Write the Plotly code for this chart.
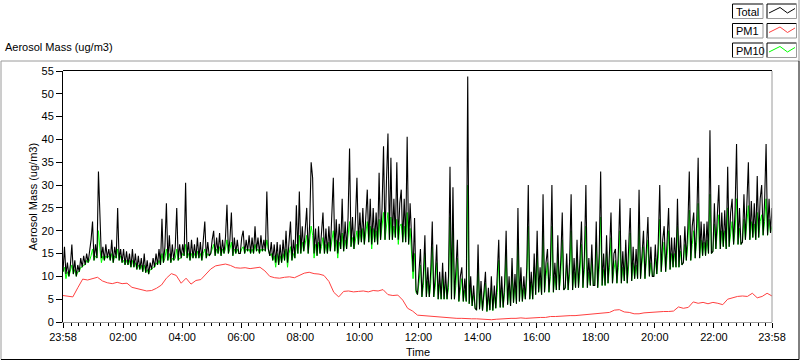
import pandas as pd
import plotly.graph_objects as go

# ---------------- data ----------------
start_time = "2020-01-01 23:58"
end_time = "2020-01-02 23:58"

# Total, 3-minute samples (one row per hour, 20 values per row)
total = [
    11, 16.5, 10.5, 13, 10, 12.5, 17, 10.5, 13.5, 10, 12.5, 11, 14, 12, 14.5, 12.5, 15, 13, 15.5, 18,
    22, 13.5, 17, 14, 33, 24, 14, 16.5, 13.5, 17, 14, 16, 13.5, 18, 13, 16.5, 14, 25, 13.5, 16,
    13, 16, 12.5, 15.5, 12.5, 15, 12, 16, 12, 15, 11.5, 14.5, 11.5, 14, 11, 15, 10.8, 13.5, 10.5, 13,
    11.5, 14, 12, 15, 12.5, 16, 12.5, 22.6, 13, 16.5, 26, 13.5, 19, 13, 17, 13.5, 16.5, 25, 13.5, 17,
    14, 17, 14.5, 30.5, 14, 17.5, 13.5, 18, 14, 17, 14, 18.5, 14, 17.5, 13.5, 18, 22, 14, 17.5, 14.5,
    15, 18, 20, 14.5, 18.5, 15, 19.5, 14.5, 18, 15, 18.5, 25.7, 15, 18, 24, 14.5, 18.5, 15, 18, 15,
    15, 18.5, 20, 15, 18, 15.5, 19, 15, 18.5, 15, 21, 15.5, 18.5, 15, 19, 15.5, 18, 15.5, 28.6, 16,
    14.5, 17.5, 13.5, 17, 13, 17.5, 12.5, 17, 13, 18, 13.5, 20, 13, 17.5, 22, 13.5, 18, 14, 25.6, 15,
    28.6, 15, 21, 15.5, 20, 25, 15, 21.5, 35, 31.6, 15, 20.5, 14.5, 21, 15, 19.5, 24, 15, 20.5, 15,
    21, 15.5, 22, 31.6, 15.5, 22.5, 15, 21.5, 16, 27, 15.5, 22, 16, 23, 38, 16.5, 23, 16, 22.5, 31.6,
    17, 24, 17.5, 25, 17, 24.5, 29, 17.5, 27, 17, 25, 17.5, 24, 17, 32.7, 18, 25, 38.5, 18, 31,
    41.3, 18, 36, 18, 27, 18.5, 35, 18, 26, 29, 17.5, 27, 17.5, 40.6, 17, 26, 16, 11, 22.8, 7,
    6, 11, 16, 5.5, 10.5, 19, 5.5, 12, 5.5, 11.5, 22, 5.5, 10, 17, 5, 11, 5, 13, 5, 11,
    5, 10, 34, 5, 29.5, 5, 10.5, 18, 4.5, 10, 12, 4.5, 9.5, 4.5, 53.8, 4, 10, 3.5, 8, 3,
    2.6, 17, 2.8, 9, 2.5, 8, 11, 2.3, 7.5, 2.6, 10, 2.5, 8, 3, 9, 18, 3.2, 10, 3.2, 8.5,
    20, 3.8, 10, 3.5, 14, 4.2, 10.5, 4, 25, 4.5, 12, 4.5, 10, 5, 12, 30, 5, 11, 5, 15,
    6, 20, 6.5, 12, 6, 28, 6.5, 13, 16, 6.5, 12.5, 30, 6.5, 13, 7, 19, 7, 13.5, 24, 7,
    7.5, 15, 7, 13.5, 28, 7, 14, 7.5, 18, 7.5, 14, 22, 7.5, 14.5, 30, 7.5, 14, 8, 17, 8,
    8, 22, 7.5, 15, 33, 8, 15, 8, 19, 8.5, 15.5, 24, 8.5, 15, 16, 8.5, 15.5, 27, 8.5, 15.5,
    9, 18, 8.5, 16, 25, 9, 16.5, 9.5, 16, 9.5, 29, 9.5, 16.5, 20, 9.5, 17, 23, 10, 16.5, 10,
    10, 17, 10.5, 17.5, 30, 11, 18, 21, 11, 18, 25, 11.5, 18.5, 12, 18.5, 12, 27, 12, 19, 12.5,
    13, 21, 13.5, 20.5, 33, 13.5, 21, 24, 14, 21.5, 36, 14, 22, 14.5, 21.5, 14.5, 22, 15, 42, 15,
    15.5, 26, 16, 23.5, 30, 16, 24, 16.5, 24.5, 16, 34, 16.5, 24, 27, 17, 24.5, 39, 17, 25, 17,
    17.5, 28, 18, 26, 35, 18, 26.5, 18.5, 26, 18, 32, 18.5, 27, 30, 19, 26.5, 39, 19, 27, 19.5, 25,
]

# PM10, 3-minute samples
pm10 = [
    11, 12, 9.5, 11, 10, 11, 12.5, 10.5, 11.5, 10, 11, 11, 12, 12, 12.5, 12.5, 13.5, 13, 13.5, 14.5,
    16, 13.5, 14.5, 14, 20, 16, 13, 14.5, 13.5, 14.5, 14, 14.5, 13.5, 15, 13, 14.5, 14, 16, 13.5, 14.5,
    13, 13.5, 12.5, 13.5, 12.5, 13.5, 12, 13.5, 12, 13, 11.5, 12.5, 11.5, 12.5, 11, 12.5, 10.8, 11.5, 10.5, 11.5,
    11.5, 12, 12, 13, 12.5, 13.5, 12.5, 15, 13, 14, 16, 13.5, 15, 13, 14, 13.5, 14, 16, 13.5, 14,
    14, 15, 14.5, 17, 14, 15, 13.5, 15, 14, 15, 14, 15.5, 14, 15, 13.5, 15, 16, 14, 15, 14.5,
    15, 16, 17, 14.5, 16, 15, 16.5, 14.5, 16, 15, 16, 18, 15, 16, 17.5, 14.5, 16, 15, 16, 15,
    15, 16, 16.5, 15, 16, 15.5, 16, 15, 16, 15, 17, 15.5, 16, 15, 16, 15.5, 16, 15.5, 18, 16,
    14.5, 15, 13.5, 14.5, 12, 15, 12.5, 14.5, 13, 15, 13.5, 16, 12, 15, 16.5, 13.5, 15, 14, 17, 15,
    19, 15, 17.5, 15.5, 17, 19, 15, 17.5, 21, 19, 14, 17, 14.5, 17.5, 15, 16.5, 18.5, 15, 17, 15,
    17.5, 15.5, 18, 20, 15.5, 18, 14, 17.5, 16, 19.5, 15.5, 18, 16, 18.5, 22, 16.5, 18.5, 16, 18, 20,
    17, 20, 17.5, 20.5, 17, 20, 22, 17.5, 21, 16, 20.5, 17.5, 20, 17, 22.5, 18, 20.5, 24, 18, 22,
    24, 18, 23, 18, 21, 18.5, 22.5, 17, 21, 21.5, 17.5, 21, 17.5, 24, 17, 20.5, 15, 9.5, 15, 6.5,
    6, 8.5, 12.5, 5.5, 8, 15, 5.5, 9, 5.5, 8.5, 16.5, 5.5, 7.5, 13, 5, 8.5, 5, 10, 5, 8.5,
    5, 7.5, 23, 5, 20, 5, 8, 14, 4.5, 7.5, 9.5, 4.5, 7, 4.5, 30, 4, 7.5, 3.5, 6, 3,
    2.6, 13, 2.8, 6.5, 2.5, 5.5, 8.5, 2.3, 5.5, 2.6, 7.5, 2.5, 6, 3, 6.5, 13.5, 3.2, 7.5, 3.2, 6.5,
    15, 3.8, 7.5, 3.5, 11, 4.2, 8, 4, 18, 4.5, 9.5, 4.5, 7.5, 5, 9.5, 21, 5, 8.5, 5, 12,
    6, 15.5, 6.5, 9.5, 6, 20, 6.5, 10, 13, 6.5, 10, 21, 6.5, 10, 7, 15, 7, 10.5, 18, 7,
    7.5, 12.5, 7, 10.5, 20, 7, 11, 7.5, 14.5, 7.5, 11, 17, 7.5, 11.5, 21, 7.5, 11, 8, 14, 8,
    8, 17.5, 7.5, 11.5, 23, 8, 11.5, 8, 15.5, 8.5, 12, 18.5, 8.5, 11.5, 13.5, 8.5, 12, 20, 8.5, 12,
    9, 15, 8.5, 12.5, 19.5, 9, 13, 9.5, 12.5, 9.5, 21.5, 9.5, 13, 16.5, 9.5, 13.5, 18, 10, 13, 10,
    10, 14, 10.5, 14, 22.5, 11, 14.5, 17.5, 11, 14.5, 20, 11.5, 15, 12, 15, 12, 21, 12, 15.5, 12.5,
    13, 17, 13.5, 17, 24.5, 13.5, 17, 20, 14, 17.5, 26, 14, 18, 14.5, 17.5, 14.5, 18, 15, 28, 15,
    15.5, 21.5, 16, 19.5, 23.5, 16, 20, 16.5, 20, 16, 25, 16.5, 20, 22, 17, 20, 27, 17, 20.5, 17,
    17.5, 22.5, 18, 21.5, 25.5, 18, 22, 18.5, 21.5, 18, 24, 18.5, 22, 23.5, 19, 22, 27, 19, 22.5, 19.5, 21,
]

# PM1, 10-minute samples
pm1 = [
    5.8, 5.6, 5.5, 7.5, 9.4, 9.2, 9.5, 9.8, 9.0, 8.6, 8.4, 8.7,
    8.4, 8.5, 7.6, 7.3, 7.0, 6.8, 6.9, 7.4, 8.1, 9.6, 10.6, 10.2,
    8.5, 9.6, 8.3, 9.1, 9.3, 10.5, 11.6, 12.3, 12.5, 12.7, 12.4, 11.9,
    11.8, 11.9, 11.7, 11.9, 12.0, 11.2, 10.0, 9.7, 9.6, 9.8, 9.9, 9.7,
    10.2, 10.7, 10.9, 10.6, 10.5, 10.2, 8.9, 6.5, 5.5, 6.7, 6.8, 6.6,
    6.7, 6.8, 6.6, 6.9, 6.8, 7.1, 6.0, 5.8, 5.9, 4.8, 3.0, 2.4,
    1.5, 1.4, 1.3, 1.2, 1.2, 1.1, 1.0, 0.9, 0.8, 0.8, 0.7, 0.7,
    0.7, 0.6, 0.6, 0.5, 0.6, 0.7, 0.7, 0.8, 0.8, 0.9, 0.8, 0.9,
    0.9, 1.0, 1.0, 1.2, 1.2, 1.3, 1.3, 1.4, 1.4, 1.5, 1.5, 1.7,
    1.8, 1.9, 1.9, 2.1, 2.6, 2.7, 2.2, 2.1, 1.8, 1.8, 2.0, 2.1,
    2.2, 2.2, 2.3, 2.3, 2.4, 3.3, 3.0, 3.2, 4.4, 4.1, 4.3, 4.0,
    4.3, 4.1, 3.8, 5.0, 5.3, 5.6, 5.7, 5.6, 6.3, 5.3, 5.6, 6.3, 5.7,
]

assert len(total) == 481 and len(pm10) == 481 and len(pm1) == 145

y_ticks = list(range(0, 56, 5))
x_tick_times = ["2020-01-01 23:58"] + [f"2020-01-02 {h:02d}:00" for h in range(2, 24, 2)] + ["2020-01-02 23:58"]
x_tick_text = ["23:58"] + [f"{h:02d}:00" for h in range(2, 24, 2)] + ["23:58"]

series_names = ["Total", "PM1", "PM10"]
series_colors = {"Total": "#000000", "PM1": "#FF4040", "PM10": "#00FF00"}

t3 = pd.date_range(start_time, periods=len(total), freq="3min")
t10 = pd.date_range(start_time, periods=len(pm1), freq="10min")

# ---------------- figure ----------------
W, H = 800, 361
L, R, T, B = 63, 28, 71, 39
PW, PH = W - L - R, H - T - B


def px(x):
    return (x - L) / PW


def py(y):
    return (H - B - y) / PH


fig = go.Figure()
fig.add_trace(go.Scatter(x=t3, y=pm10, mode="lines", name="PM10",
                         line=dict(color=series_colors["PM10"], width=1)))
fig.add_trace(go.Scatter(x=t10, y=pm1, mode="lines", name="PM1",
                         line=dict(color=series_colors["PM1"], width=1)))
fig.add_trace(go.Scatter(x=t3, y=total, mode="lines", name="Total",
                         line=dict(color=series_colors["Total"], width=1.1)))

GRAY = "#9a9a9a"
shapes = []


def hline(x0, x1, y, color):
    shapes.append(dict(type="line", xref="paper", yref="paper",
                       x0=px(x0), x1=px(x1), y0=py(y), y1=py(y),
                       line=dict(color=color, width=1)))


def vline(x, y0, y1, color):
    shapes.append(dict(type="line", xref="paper", yref="paper",
                       x0=px(x), x1=px(x), y0=py(y0), y1=py(y1),
                       line=dict(color=color, width=1)))


# plot border: black top, gray right
hline(L, W - R, T - 0.5, "#000000")
vline(W - R, T, H - B, GRAY)

# outer frame
hline(1, 799, 61, GRAY)
vline(1, 61, 359.5, GRAY)
hline(1, 799, 359.5, "#000000")
vline(799, 61, 359.5, "#000000")
vline(799, 0, 61, GRAY)


def box(x0, y0, x1, y1):
    hline(x0, x1, y0, "#000000")
    vline(x0, y0, y1, "#000000")
    hline(x0, x1, y1, GRAY)
    vline(x1, y0, y1, GRAY)


annotations = []
for r, name in enumerate(series_names):
    top = 4 + 19.5 * r
    bot = top + 14.5
    box(732.5, top, 763, bot)
    box(767, top, 796.5, bot)
    pts = [(769, top + 9), (780, top + 3.5), (787.5, top + 9), (795, top + 4.5)]
    path = "M " + " L ".join(f"{px(a):.5f},{py(b):.5f}" for a, b in pts)
    shapes.append(dict(type="path", xref="paper", yref="paper", path=path,
                       line=dict(color=series_colors[name], width=1)))
    annotations.append(dict(xref="paper", yref="paper", x=px(734), y=py(top + 7.5),
                            xanchor="left", yanchor="middle", showarrow=False,
                            text=name, font=dict(size=11)))

annotations.append(dict(xref="paper", yref="paper", x=px(3), y=py(47),
                        xanchor="left", yanchor="middle", showarrow=False,
                        text="Aerosol Mass (ug/m3)"))
annotations.append(dict(xref="paper", yref="paper", x=px(32), y=0.5,
                        xanchor="center", yanchor="middle", showarrow=False,
                        textangle=-90, text="Aerosol Mass (ug/m3)"))
annotations.append(dict(xref="paper", yref="paper", x=0.5, y=py(352),
                        xanchor="center", yanchor="middle", showarrow=False,
                        text="Time"))

fig.update_layout(
    width=W, height=H,
    margin=dict(l=L, r=R, t=T, b=B, pad=0),
    paper_bgcolor="white", plot_bgcolor="white",
    font=dict(family="Liberation Sans, Arial, sans-serif", size=11, color="black"),
    showlegend=False,
    shapes=shapes,
    annotations=annotations,
    xaxis=dict(
        range=[start_time, end_time],
        tickmode="array", tickvals=x_tick_times, ticktext=x_tick_text,
        ticks="outside", ticklen=5, tickcolor="black", tickwidth=1,
        showgrid=False, zeroline=False,
        showline=True, linecolor=GRAY, linewidth=1,
        minor=dict(tickmode="linear", tick0="2020-01-02 00:00", dtick=15 * 60 * 1000,
                   ticks="outside", ticklen=3, tickcolor="black", showgrid=False),
    ),
    yaxis=dict(
        range=[0, 55],
        tickmode="array", tickvals=y_ticks,
        ticks="outside", ticklen=6, tickcolor="black", tickwidth=1,
        showgrid=False, zeroline=False,
        showline=True, linecolor="black", linewidth=1,
    ),
)

fig.write_html(
    "out.html",
    config={"displayModeBar": False},
    post_script="document.body.style.margin='0';document.body.style.overflow='hidden';",
)
